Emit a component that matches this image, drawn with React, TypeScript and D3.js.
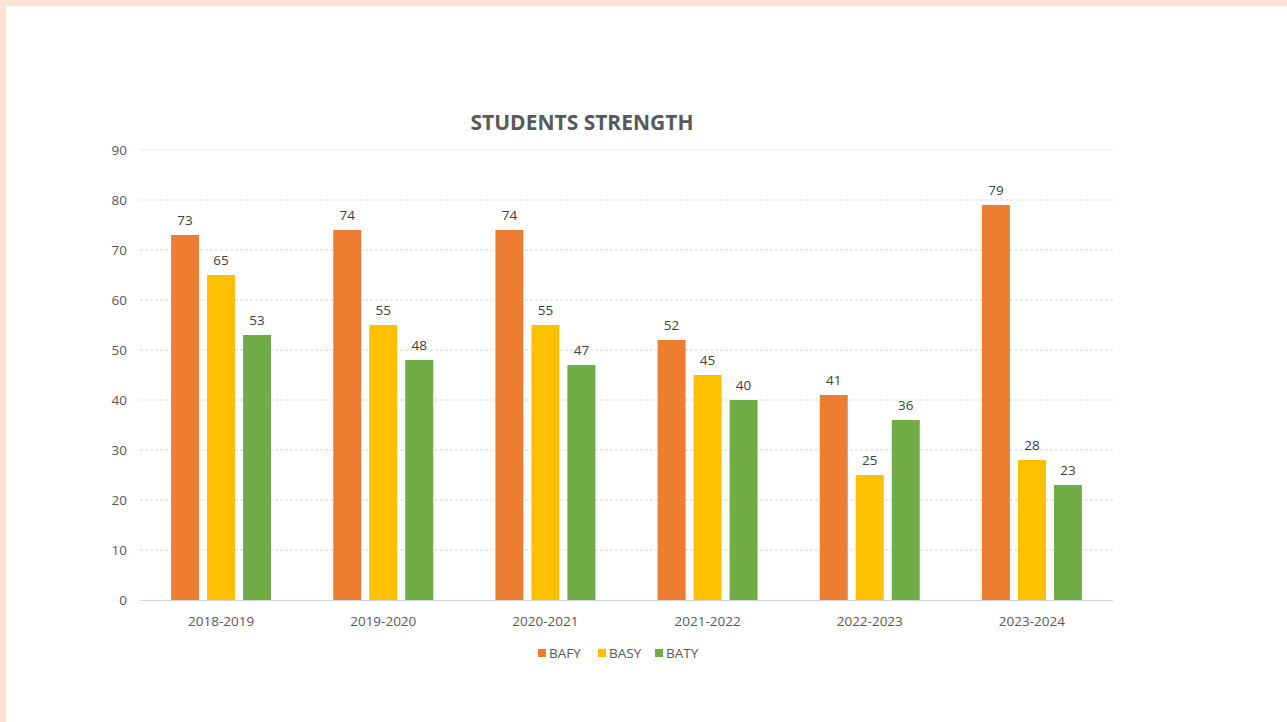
import React, {useEffect, useRef} from 'react';
import * as d3 from 'd3';

// chart data
const years = ['2018-2019', '2019-2020', '2020-2021', '2021-2022', '2022-2023', '2023-2024'];
const seriesNames = ['BAFY', 'BASY', 'BATY'];
const bafy = [73, 74, 74, 52, 41, 79];
const basy = [65, 55, 55, 45, 25, 28];
const baty = [53, 48, 47, 40, 36, 23];
const yTicks = [0, 10, 20, 30, 40, 50, 60, 70, 80, 90];

const colors = ['#ED7D31', '#FFC000', '#70AD47'];
const W = 1287, H = 722;

export default function App(){
    const ref = useRef(null);

    useEffect(()=>{
        const svg = d3.select(ref.current);
        svg.selectAll('*').remove();

        const font = '"Open Sans", "Liberation Sans", sans-serif';
        const left = 140, right = 1113, top = 150, bottom = 600;
        const groupW = 100;

        // page background + peach frame
        svg.append('rect').attr('width', W).attr('height', H).attr('fill', '#FDE3D6');
        svg.append('rect').attr('x', 6).attr('y', 6).attr('width', W - 6).attr('height', H - 6).attr('fill', '#fff');

        const x0 = d3.scaleBand().domain(years).range([left, right]);
        const x1 = d3.scaleBand().domain(seriesNames).range([0, groupW]).paddingInner(8 / 36);
        const y = d3.scaleLinear().domain([0, 90]).range([bottom, top]);

        // gridlines
        svg.append('g').selectAll('line').data(yTicks.filter(t => t > 0)).enter().append('line')
            .attr('x1', left).attr('x2', right)
            .attr('y1', d => y(d)).attr('y2', d => y(d))
            .attr('stroke', d => d === 90 ? '#e8e8e8' : '#d9d9d9')
            .attr('stroke-width', 1)
            .attr('stroke-dasharray', d => d === 90 ? null : '3,2');

        // y tick labels
        svg.append('g').selectAll('text').data(yTicks).enter().append('text')
            .attr('x', 127).attr('y', d => y(d) + 5)
            .attr('text-anchor', 'end')
            .attr('font-family', font).attr('font-size', 13.5).attr('fill', '#595959')
            .text(d => d);

        const table = seriesNames.map((name, i) => ({name, values: [bafy, basy, baty][i], color: colors[i]}));

        const groups = svg.append('g').selectAll('g').data(table).enter().append('g');
        groups.each(function(s){
            const g = d3.select(this);
            const off = (x0.bandwidth() - groupW) / 2;
            g.selectAll('rect').data(s.values).enter().append('rect')
                .attr('x', (d, i) => x0(years[i]) + off + x1(s.name))
                .attr('y', d => y(d))
                .attr('width', x1.bandwidth())
                .attr('height', d => bottom - y(d))
                .attr('fill', s.color);
            g.selectAll('text').data(s.values).enter().append('text')
                .attr('x', (d, i) => x0(years[i]) + off + x1(s.name) + x1.bandwidth() / 2)
                .attr('y', d => y(d) - 10)
                .attr('text-anchor', 'middle')
                .attr('font-family', font).attr('font-size', 13.5).attr('fill', '#404040')
                .text(d => d);
        });

        // baseline
        svg.append('line').attr('x1', left).attr('x2', right).attr('y1', bottom + 0.5).attr('y2', bottom + 0.5)
            .attr('stroke', '#d0d7e0').attr('stroke-width', 1);

        // category labels
        svg.append('g').selectAll('text').data(years).enter().append('text')
            .attr('x', d => x0(d) + x0.bandwidth() / 2).attr('y', 626)
            .attr('text-anchor', 'middle')
            .attr('font-family', font).attr('font-size', 13.5).attr('fill', '#595959')
            .text(d => d);

        // title
        svg.append('text').attr('x', 582).attr('y', 130).attr('text-anchor', 'middle')
            .attr('font-family', font).attr('font-size', 21).attr('font-weight', 'bold')
            .attr('fill', '#595959').text('STUDENTS STRENGTH');

        // legend
        const legendX = [538, 598, 655];
        const lg = svg.append('g').selectAll('g').data(seriesNames).enter().append('g')
            .attr('transform', (d, i) => 'translate(' + legendX[i] + ',653)');
        lg.append('rect').attr('x', 0).attr('y', -4).attr('width', 8).attr('height', 8)
            .attr('fill', (d, i) => colors[i]);
        lg.append('text').attr('x', 11).attr('y', 5)
            .attr('font-family', font).attr('font-size', 13.5).attr('fill', '#595959')
            .text(d => d);
    }, []);

    return (
        <svg ref={ref} width={W} height={H}
             style={{position: 'absolute', left: 0, top: 0, display: 'block'}}></svg>
    );
}
